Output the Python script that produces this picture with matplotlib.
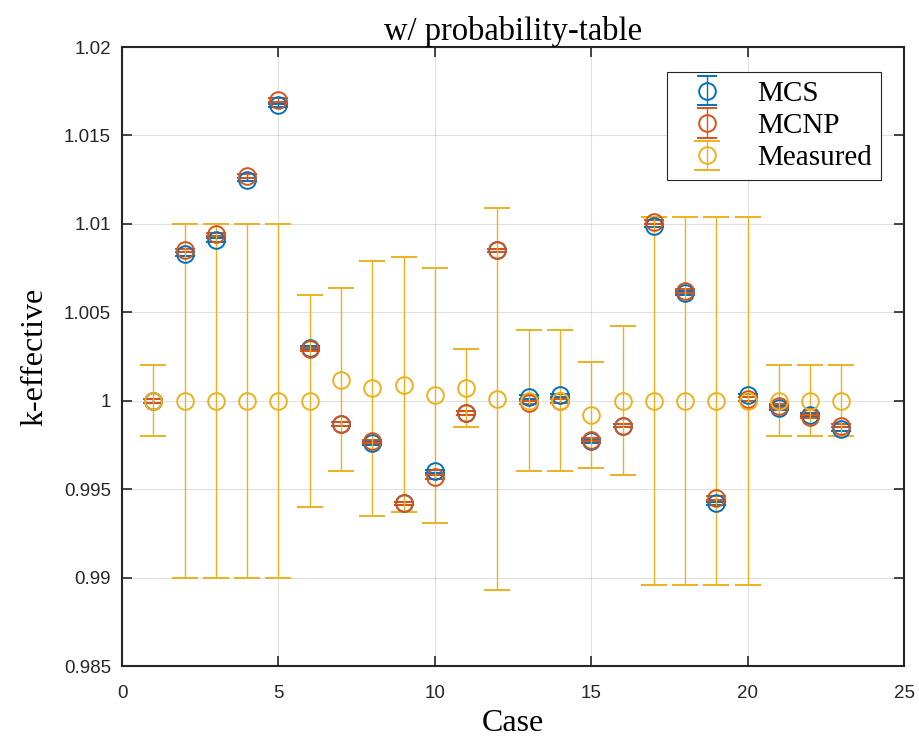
import matplotlib
matplotlib.use("Agg")
import matplotlib.pyplot as plt
from matplotlib.ticker import FuncFormatter

# data
cases = list(range(1, 24))
mcs = [1.0000, 1.0083, 1.0091, 1.0125, 1.0167, 1.0030, 0.9987, 0.9976, 0.9942, 0.9960,
       0.9993, 1.0085, 1.0002, 1.0003, 0.9977, 0.9986, 1.0099, 1.0061, 0.9942, 1.0003,
       0.9996, 0.9992, 0.9984]
mcs_err = [0.0001] * 23
mcnp = [1.0000, 1.0085, 1.0094, 1.0127, 1.0170, 1.0029, 0.9987, 0.9977, 0.9942, 0.9957,
        0.9993, 1.0085, 0.9999, 1.0000, 0.9978, 0.9986, 1.0101, 1.0062, 0.9945, 1.0001,
        0.9997, 0.9991, 0.9986]
mcnp_err = [0.0001] * 23
measured = [1.0000, 1.0000, 1.0000, 1.0000, 1.0000, 1.0000, 1.0012, 1.0007, 1.0009, 1.0003,
            1.0007, 1.0001, 1.0000, 1.0000, 0.9992, 1.0000, 1.0000, 1.0000, 1.0000, 1.0000,
            1.0000, 1.0000, 1.0000]
measured_err = [0.0020, 0.0100, 0.0100, 0.0100, 0.0100, 0.0060, 0.0052, 0.0072, 0.0072, 0.0072,
                0.0022, 0.0108, 0.0040, 0.0040, 0.0030, 0.0042, 0.0104, 0.0104, 0.0104, 0.0104,
                0.0020, 0.0020, 0.0020]

blue = "#0072BD"
red = "#D95319"
yellow = "#EDB120"

fig = plt.figure(figsize=(9.19, 7.43), dpi=100)
ax = fig.add_axes([0.1328, 0.1036, 0.8509, 0.8331])

style = dict(fmt="o", markersize=12, markerfacecolor="none", markeredgewidth=1.4,
             elinewidth=1.0, capthick=1.0)
ax.errorbar(cases, mcs, yerr=mcs_err, color=blue, label="MCS", capsize=7, **style)
ax.errorbar(cases, mcnp, yerr=mcnp_err, color=red, label="MCNP", capsize=7, **style)
ax.errorbar(cases, measured, yerr=measured_err, color=yellow, label="Measured", capsize=9.5, **style)

ax.set_xlim(0, 25)
ax.set_ylim(0.985, 1.02)
ax.set_xticks(range(0, 26, 5))
ax.set_yticks([0.985, 0.99, 0.995, 1.0, 1.005, 1.01, 1.015, 1.02])
ax.yaxis.set_major_formatter(FuncFormatter(lambda v, p: f"{v:g}"))

ax.grid(True, color="#000000", alpha=0.12, linewidth=0.8)
ax.set_axisbelow(True)
ax.tick_params(direction="in", length=7, width=1.2, top=True, right=True,
               labelsize=13.5, colors="#262626")
ax.tick_params(axis="x", pad=14)
ax.tick_params(axis="y", pad=8)
for lab in ax.get_xticklabels() + ax.get_yticklabels():
    lab.set_family("Liberation Sans")
for s in ax.spines.values():
    s.set_linewidth(1.5)
    s.set_color("#262626")

ax.set_title("w/ probability-table", family="Liberation Serif", fontsize=23.5, pad=5)
ax.set_xlabel("Case", family="Liberation Serif", fontsize=23, labelpad=5)
ax.set_ylabel("k-effective", family="Liberation Serif", fontsize=23, labelpad=10)

leg = ax.legend(loc="upper right", bbox_to_anchor=(0.97, 0.96),
                prop={"family": "Liberation Serif", "size": 21},
                fancybox=False, edgecolor="#262626", framealpha=1, handlelength=2.2,
                borderpad=0.3, labelspacing=0.2, handletextpad=0.6, borderaxespad=0)
leg.get_frame().set_linewidth(0.8)

fig.savefig("out.png", dpi=100)
